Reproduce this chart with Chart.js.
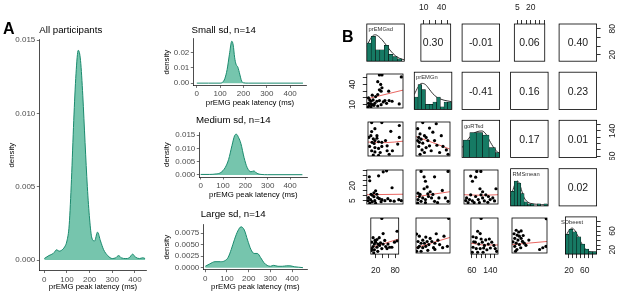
<!DOCTYPE html>
<html>
<head>
<meta charset="utf-8">
<script src="https://cdn.jsdelivr.net/npm/chart.js@4.4.1/dist/chart.umd.min.js"></script>
<style>
  body { margin: 0; background: #fff; }
  #fig { position: relative; width: 617px; height: 303px; overflow: hidden; font-family: "Liberation Sans", Arial, sans-serif; }
  #fig canvas { position: absolute; }
  .t { position: absolute; white-space: nowrap; line-height: 1; color: #000; }
</style>
</head>
<body>
<div id="fig"></div>
<script>
// ---- panel A: density of prEMG peak latency ----
var latTicks = [0, 100, 200, 300, 400];

var latAll = [0, 20, 40, 55, 65, 75, 90, 100, 110, 120, 130, 140, 150, 160, 170, 180, 190, 200, 210, 222, 235, 248, 262, 280, 300, 315, 328, 340, 360, 375, 390, 402, 420, 435, 445];
var densAll = [0.0001, 0.0003, 0.00045, 0.0007, 0.0006, 0.00065, 0.0009, 0.0013, 0.0024, 0.0055, 0.0095, 0.0127, 0.0143, 0.0136, 0.0112, 0.0080, 0.0050, 0.0028, 0.0015, 0.0013, 0.0019, 0.0013, 0.0007, 0.0003, 0.0001, 0.00015, 0.0003, 0.00015, 0.0001, 0.00015, 0.0004, 0.0002, 0.0001, 0.00015, 0.0001];

var latSmall = [0, 50, 100, 110, 120, 130, 140, 150, 156, 162, 168, 176, 184, 192, 200, 220, 300, 400, 455];
var densSmall = [0.0001, 0.0001, 0.0001, 0.0006, 0.003, 0.009, 0.019, 0.0275, 0.025, 0.017, 0.0125, 0.0105, 0.006, 0.0015, 0.0003, 0.0001, 0.0001, 0.0001, 0.0001];

var latMedium = [0, 40, 70, 90, 110, 125, 140, 152, 160, 170, 180, 194, 208, 225, 238, 252, 270, 300, 455];
var densMedium = [0.0002, 0.0002, 0.0004, 0.0009, 0.0028, 0.0058, 0.0110, 0.0148, 0.0153, 0.0140, 0.0118, 0.0066, 0.0028, 0.0012, 0.0015, 0.0006, 0.0002, 0.0001, 0.0001];

var latLarge = [0, 20, 45, 70, 90, 105, 120, 135, 150, 165, 180, 195, 210, 225, 240, 255, 270, 285, 300, 315, 335, 355, 375, 390, 410, 430, 450];
var densLarge = [0.0003, 0.0008, 0.0013, 0.0013, 0.0015, 0.0022, 0.0040, 0.0062, 0.0080, 0.0089, 0.0082, 0.0060, 0.0040, 0.0031, 0.0031, 0.0022, 0.0011, 0.0005, 0.0003, 0.0005, 0.0003, 0.0003, 0.0004, 0.0004, 0.0002, 0.0001, 0.0000];

// ---- panel B: pairs plot ----
var varNames = ['prEMGsd', 'prEMGn', 'goRTsd', 'RMSmean', 'SDbeest'];
var varRange = [[5, 91], [5, 55.4], [56, 173], [1.7, 35.8], [11, 90]];
var varTicks = [[20, 40, 60, 80], [10, 20, 30, 40, 50], [60, 80, 100, 120, 140, 160], [5, 10, 15, 20, 25, 30, 35], [20, 30, 40, 50, 60, 70, 80]];
var varTickLabels = [[20, 80], [10, 40], [60, 140], [5, 20], [20, 60]];

// histograms on the diagonal (bin mids, counts) and their density line (count units)
var histMid = [
  [10, 20, 30, 40, 50, 60, 70, 80],
  [7.5, 12.5, 17.5, 22.5, 27.5, 32.5, 37.5, 42.5, 47.5, 52.5],
  [70, 90, 110, 130, 150, 170],
  [3.5, 6.5, 9.5, 12.5, 15.5, 18.5, 21.5, 24.5, 27.5, 30.5, 33.5],
  [15, 25, 35, 45, 55, 65, 75, 85]
];
var histCount = [
  [8, 11, 5, 5, 7, 3, 2, 1],
  [5, 10, 8, 2, 2, 3, 5, 1, 3, 3],
  [7, 10, 10, 9, 4, 2],
  [7, 12, 11, 6, 2, 1, 1, 0, 1, 0, 1],
  [8, 10, 9, 7, 4, 2, 1, 1]
];
var histTop = [16.5, 15, 15, 18, 15];
var diagLineX = [
  [5, 12, 20, 25, 32, 40, 50, 60, 70, 80, 91],
  [5, 10, 15, 20, 25, 30, 35, 40, 45, 50, 55.4],
  [56, 70, 85, 100, 118, 130, 145, 160, 173],
  [1.7, 4, 6, 8, 10, 12, 14, 17, 20, 25, 30, 35.8],
  [11, 20, 28, 35, 45, 55, 65, 75, 90]
];
var diagLineY = [
  [6.5, 9.5, 11.5, 11.7, 11, 9.5, 7, 4.5, 2.5, 1.3, 0.6],
  [6, 9, 10.5, 10, 8.2, 6.3, 5, 4.2, 3.7, 3.4, 3.1],
  [4, 6.5, 9, 10.3, 10.7, 9.5, 6, 3, 1.6],
  [4.5, 8, 11, 12, 10.5, 7, 4, 2, 1.2, 0.8, 0.6, 0.5],
  [7, 9.5, 10.5, 9.5, 6.5, 3.5, 1.5, 0.8, 0.5]
];

// correlations in the upper triangle
var corrText = [
  [null, '0.30', '-0.01', '0.06', '0.40'],
  [null, null, '-0.41', '0.16', '0.23'],
  [null, null, null, '0.17', '0.01'],
  [null, null, null, null, '0.02']
];

// lower triangle scatter points: key "row,col", x = var col, y = var row
var scatterPts = {
  '1,0': [[35, 54], [41, 54], [87, 51], [31, 44], [38, 40], [41, 35], [35, 32], [39, 30], [18, 24], [26, 22], [31, 25], [9, 20], [12, 17], [15, 15], [9, 12], [14, 11], [18, 10], [10, 8], [15, 7], [22, 9], [24, 12], [29, 15], [35, 16], [44, 14], [48, 16], [52, 12], [58, 16], [65, 15], [82, 11], [31, 8], [39, 10], [20, 17], [57, 30], [7, 6]],
  '2,0': [[14, 171], [39, 171], [82, 161], [22, 150], [14, 140], [61, 141], [7, 120], [18, 115], [22, 109], [27, 117], [15, 103], [20, 99], [31, 105], [39, 103], [48, 109], [52, 91], [9, 89], [22, 85], [31, 82], [39, 89], [14, 74], [22, 70], [35, 68], [52, 74], [18, 59], [31, 58], [57, 62], [78, 97], [82, 120], [65, 74], [27, 126], [12, 126]],
  '2,1': [[15, 171], [35, 167], [7.5, 150], [25, 152], [11, 132], [17.5, 126], [9, 120], [12.5, 114], [22.5, 109], [32.5, 109], [15, 100], [9, 89], [20, 85], [36, 93], [45, 89], [27.5, 74], [17.5, 68], [11, 62], [40, 68], [50, 77], [7.5, 109], [20, 120], [30, 138], [42.5, 126], [14, 77], [25, 91], [10, 103], [52.5, 62]],
  '3,0': [[52, 35], [44, 34], [11, 29], [33, 30], [12, 25], [65, 18], [26, 15], [22, 13], [18, 10.5], [9, 8], [14, 6], [8, 5], [18, 4], [24, 5], [31, 8], [35, 7], [41, 6], [48, 5], [55, 7], [61, 5], [70, 4.5], [81, 6], [87, 5], [12, 2.5], [26, 2.5], [39, 4], [22, 9], [15, 11.5], [29, 11.5]],
  '3,1': [[12.5, 34.4], [52.5, 34.4], [17, 29], [19, 24.5], [32.5, 29], [21.5, 18.8], [17, 17], [26, 14], [8, 12.6], [10, 9.2], [15, 7.8], [8, 6.1], [12.5, 4.4], [19, 6.1], [23.5, 9.2], [28, 7.8], [32.5, 4.4], [39, 7.8], [44, 15.3], [48.5, 7.8], [52.5, 4.4], [37, 3.1], [19, 3.1], [7.5, 2.7], [11, 11.3], [22.5, 11.9], [30, 11.3]],
  '3,2': [[100, 34.4], [114, 34.4], [79, 29.7], [96, 28.6], [85, 24.5], [111, 17], [120, 14], [114.5, 10.9], [65, 7.8], [75, 6.1], [85, 4.8], [96, 9.2], [105, 6.1], [120, 7.8], [131, 10.9], [140, 9.2], [146, 6.1], [155, 7.8], [166, 17], [70, 3.1], [91, 3.1], [126, 4.8], [161, 4.8], [79, 10.9], [62, 5.1], [109, 3.1], [138, 3.4]],
  '4,0': [[39, 89], [43, 56], [86, 61], [12, 47], [31, 47], [24, 43], [8, 37], [16, 33], [20, 37], [27, 33], [35, 35.5], [12, 27.6], [8, 23], [7, 19], [16, 20.5], [24, 26], [32, 30], [43, 33], [51, 27.6], [55, 23], [63, 26], [70, 26], [78, 37], [86, 40], [58, 33], [14, 14], [26.5, 17], [39, 23], [18, 41], [48, 41]],
  '4,1': [[53.5, 89], [35, 54.5], [6, 53.7], [10, 49], [19.5, 47], [15, 40], [8, 37], [12.5, 33], [21.5, 37], [28.5, 37], [33, 33], [37.5, 40], [46.5, 49], [10, 26], [8, 23], [15, 23], [19.5, 26], [24, 30], [31, 23], [40, 30], [44.5, 23], [51.5, 26], [33, 19], [6, 15], [12.5, 15], [22.5, 17], [17.5, 33], [26, 44]],
  '4,2': [[100, 89], [85, 61], [96, 56], [65, 49], [79, 47], [120, 42], [75, 37], [90, 33], [105, 37], [114.5, 30], [131, 33], [146, 37], [155.5, 30], [65, 26], [79, 23], [96, 23], [111, 24.4], [125, 20.5], [140, 24.4], [161, 23], [135.5, 44], [62, 15], [85, 15], [108.5, 15], [167, 17], [68, 38], [100, 44]],
  '4,3': [[35.1, 88.4], [5.8, 62.4], [8.2, 58.4], [10.6, 60.8], [6.8, 51.3], [8.9, 48.9], [4.4, 44.2], [7.5, 40.2], [10.6, 44.2], [11.9, 37.1], [5.8, 33.1], [8.9, 30], [4.4, 26], [13.6, 33.1], [18.1, 40.2], [28.6, 18.9], [31.7, 22.8], [34.8, 26], [3.7, 54.5], [2.7, 36.3], [6.5, 18.9], [10.2, 22.8], [15.3, 28.4], [5.1, 15], [12.6, 50.5]]
};
// smooth (red) lines of the lower panels
var smoothPts = {
  '1,0': [[5, 18.5], [91, 31.5]],
  '2,0': [[5, 104], [48, 102], [91, 107]],
  '2,1': [[5, 123], [30, 102], [55, 80]],
  '3,0': [[5, 11], [91, 11.5]],
  '3,1': [[5, 9], [55, 14]],
  '3,2': [[56, 11], [115, 10.5], [173, 11]],
  '4,0': [[5, 25], [91, 44]],
  '4,1': [[5, 23], [55, 46]],
  '4,2': [[56, 35], [115, 31], [173, 31]],
  '4,3': [[1.7, 30], [35.8, 37]]
};

var FONT = '"Liberation Sans", Arial, sans-serif';
Chart.defaults.font.family = FONT;
var fig = document.getElementById('fig');

var CELL_L = [366.8, 414.3, 462.1, 510.6, 559.1], CELL_W = 37.5;
var CELL_T = [24, 72.2, 120.3, 168.7, 216.9], CELL_H = 37.2;

function mount(a, m) {
  var c = document.createElement('canvas');
  var l = Math.floor(a.l - m.l), t = Math.floor(a.t - m.t);
  var r = Math.ceil(a.r + m.r), b = Math.ceil(a.b + m.b);
  c.width = r - l; c.height = b - t;
  c.style.left = l + 'px'; c.style.top = t + 'px';
  fig.appendChild(c);
  return {canvas: c, pad: {left: a.l - l, top: a.t - t, right: r - a.r, bottom: b - a.b}};
}

function addText(txt, x, y, css) {
  var d = document.createElement('div');
  d.className = 't';
  d.textContent = txt;
  d.style.left = x + 'px'; d.style.top = y + 'px';
  for (var k in css) d.style[k] = css[k];
  fig.appendChild(d);
  return d;
}

function pts(xs, ys) {
  return xs.map(function (x, i) { return {x: x, y: ys[i]}; });
}

// ---- panel A charts ----
function densityPanel(o) {
  var mt = mount(o.area, o.margin), p = mt.pad;
  new Chart(mt.canvas, {
    type: 'line',
    data: {
      datasets: [{
        data: pts(o.lat, o.dens),
        borderColor: '#1b8a6e', backgroundColor: 'rgba(27,158,119,0.6)',
        borderWidth: 1, fill: 'origin', pointRadius: 0, cubicInterpolationMode: 'monotone'
      }]
    },
    options: {
      responsive: false, animation: false, events: [],
      layout: {padding: {left: 0, bottom: 0, top: p.top, right: p.right}},
      plugins: {legend: {display: false}, tooltip: {enabled: false}},
      scales: {
        x: {
          type: 'linear', min: o.xr[0], max: o.xr[1],
          afterBuildTicks: function (s) { s.ticks = latTicks.map(function (v) { return {value: v}; }); },
          afterFit: function (s) { s.height = p.bottom; },
          grid: {drawOnChartArea: false, tickLength: 2.5, color: '#333', lineWidth: 0.7},
          border: {color: '#000', width: 0.7},
          ticks: {padding: 1.5, color: '#4d4d4d', font: {size: 8}, maxRotation: 0, autoSkip: false},
          title: {display: true, text: 'prEMG peak latency (ms)', color: '#000', font: {size: 7.8}, padding: {top: 0, bottom: o.xtp}}
        },
        y: {
          type: 'linear', min: o.yr[0], max: o.yr[1],
          afterBuildTicks: function (s) { s.ticks = o.yt.map(function (v) { return {value: v}; }); },
          afterFit: function (s) { s.width = p.left; },
          grid: {drawOnChartArea: false, tickLength: 2.5, color: '#333', lineWidth: 0.7},
          border: {color: '#000', width: 0.7},
          ticks: {padding: 1.5, color: '#4d4d4d', font: {size: 8}, autoSkip: false,
                  callback: function (v) { return v.toFixed(o.dec); }},
          title: {display: true, text: 'density', color: '#000', font: {size: 7.8}, padding: {top: o.ytp, bottom: 0}}
        }
      }
    }
  });
}

densityPanel({lat: latAll, dens: densAll, area: {l: 39.3, t: 39.8, r: 146.7, b: 270.5},
  margin: {l: 39.3, t: 6.8, r: 6.3, b: 27.5}, xr: [-22, 452], yr: [-0.000715, 0.015015],
  yt: [0, 0.005, 0.01, 0.015], dec: 3, xtp: 6.3, ytp: 7.3});
densityPanel({lat: latSmall, dens: densSmall, area: {l: 193.3, t: 38.8, r: 306.7, b: 85.4},
  margin: {l: 33.3, t: 6.8, r: 6.3, b: 24.6}, xr: [-15, 471], yr: [-0.001385, 0.029085],
  yt: [0, 0.01, 0.02], dec: 2, xtp: 2.6, ytp: 2});
densityPanel({lat: latMedium, dens: densMedium, area: {l: 199.3, t: 132.2, r: 307.3, b: 177.0},
  margin: {l: 39.3, t: 7.2, r: 5.7, b: 26}, xr: [-6, 477], yr: [-0.000765, 0.016065],
  yt: [0, 0.005, 0.01, 0.015], dec: 3, xtp: 3.3, ytp: 2});
densityPanel({lat: latLarge, dens: densLarge, area: {l: 203.3, t: 224.8, r: 307.3, b: 269.7},
  margin: {l: 43.3, t: 6.8, r: 5.7, b: 28.3}, xr: [-9, 470], yr: [-0.000445, 0.009345],
  yt: [0, 0.0025, 0.005, 0.0075], dec: 4, xtp: 6, ytp: 2});

addText('A', 3, 21.2, {fontSize: '16px', fontWeight: 'bold'});
addText('All participants', 39.3, 24.7, {fontSize: '9.7px'});
addText('Small sd, n=14', 191.5, 24.7, {fontSize: '9.7px'});
addText('Medium sd, n=14', 196, 115.4, {fontSize: '9.7px'});
addText('Large sd, n=14', 200.7, 208.7, {fontSize: '9.7px'});

// ---- panel B charts ----
var cellBox = {
  id: 'cellBox',
  afterDraw: function (chart) {
    var a = chart.chartArea, ctx = chart.ctx;
    ctx.save();
    ctx.strokeStyle = '#000'; ctx.lineWidth = 0.8;
    ctx.strokeRect(a.left, a.top, a.right - a.left, a.bottom - a.top);
    ctx.restore();
  }
};
var sideLabels = {
  id: 'sideLabels',
  afterDraw: function (chart, args, opts) {
    if (!opts || !opts.values) return;
    var s = chart.scales[opts.scale], a = chart.chartArea, ctx = chart.ctx;
    var x = opts.side === 'left' ? a.left - 14.5 : a.right + 16;
    ctx.save();
    ctx.font = '8.5px ' + FONT; ctx.fillStyle = '#222';
    ctx.textAlign = 'center'; ctx.textBaseline = 'middle';
    opts.values.forEach(function (v) {
      ctx.save();
      ctx.translate(x, s.getPixelForValue(v));
      ctx.rotate(-Math.PI / 2);
      ctx.fillText(String(v), 0, 0);
      ctx.restore();
    });
    ctx.restore();
  }
};

function varAxis(v, side, size, horizontal) {
  return {
    type: 'linear', min: varRange[v][0], max: varRange[v][1],
    position: side || (horizontal ? 'bottom' : 'left'), display: !!side, offset: false,
    afterBuildTicks: function (s) {
      var t = side ? varTicks[v] : varRange[v];
      s.ticks = t.map(function (x) { return {value: x}; });
    },
    afterFit: function (s) { if (side) { if (horizontal) s.height = size; else s.width = size; } },
    grid: {drawOnChartArea: false, drawTicks: true, tickLength: 4, color: '#000', lineWidth: 0.8, offset: false},
    border: {display: false},
    ticks: {display: horizontal, autoSkip: false, maxRotation: 0, padding: 7, color: '#222', font: {size: 8.5},
            callback: function (val) { return varTickLabels[v].indexOf(val) >= 0 ? String(val) : ''; }}
  };
}

function cellChart(i, j) {
  var a = {l: CELL_L[j], t: CELL_T[i], r: CELL_L[j] + CELL_W, b: CELL_T[i] + CELL_H};
  var top = i === 0 && j % 2 === 1, bottom = i === 4 && j % 2 === 0;
  var left = j === 0 && i % 2 === 1, right = j === 4 && i % 2 === 0;
  var mt = mount(a, {l: left ? 24 : 2, t: top ? 24 : 2, r: right ? 24 : 2, b: bottom ? 24 : 2});
  var p = mt.pad;
  var xSide = top ? 'top' : (bottom ? 'bottom' : null);
  var ySide = left ? 'left' : (right ? 'right' : null);
  var scales = {x: varAxis(j, xSide, top ? p.top : p.bottom, true)};
  var key = i + ',' + j, type, datasets;

  if (i === j) {
    type = 'bar';
    scales.y = {type: 'linear', min: 0, max: histTop[i], display: false};
    if (ySide) scales.yv = varAxis(i, ySide, right ? p.right : p.left, false);
    datasets = [
      {type: 'bar', data: pts(histMid[i], histCount[i]), backgroundColor: '#167a64', borderColor: '#000',
       borderWidth: 0.5, barPercentage: 1, categoryPercentage: 1, xAxisID: 'x', yAxisID: 'y'},
      {type: 'line', data: pts(diagLineX[i], diagLineY[i]), borderColor: '#000', borderWidth: 0.8,
       pointRadius: 0, fill: false, cubicInterpolationMode: 'monotone', xAxisID: 'x', yAxisID: 'y'}
    ];
  } else {
    type = 'scatter';
    scales.y = varAxis(i, ySide, right ? p.right : p.left, false);
    datasets = [];
    if (i > j) {
      datasets.push({data: scatterPts[key].map(function (q) { return {x: q[0], y: q[1]}; }),
        pointRadius: 1.6, pointBackgroundColor: '#000', pointBorderWidth: 0});
      datasets.push({data: smoothPts[key].map(function (q) { return {x: q[0], y: q[1]}; }),
        showLine: true, pointRadius: 0, borderColor: '#e3403a', borderWidth: 0.8, cubicInterpolationMode: 'monotone'});
    }
  }

  new Chart(mt.canvas, {
    type: type,
    data: {datasets: datasets},
    options: {
      responsive: false, animation: false, events: [],
      layout: {padding: {left: left ? 0 : p.left, top: top ? 0 : p.top, right: right ? 0 : p.right, bottom: bottom ? 0 : p.bottom}},
      plugins: {
        legend: {display: false}, tooltip: {enabled: false},
        sideLabels: ySide ? {scale: i === j ? 'yv' : 'y', side: ySide, values: varTickLabels[i]} : {}
      },
      scales: scales
    },
    plugins: [cellBox, sideLabels]
  });

  if (i === j) {
    addText(varNames[i], CELL_L[j] + 1.8, CELL_T[i] + 3.2, {fontSize: '5.8px', color: '#333'});
  } else if (i < j) {
    addText(corrText[i][j], CELL_L[j], CELL_T[i], {fontSize: '10.5px', color: '#1a1a1a',
      width: CELL_W + 'px', height: CELL_H + 'px', display: 'flex', alignItems: 'center', justifyContent: 'center'});
  }
}

for (var i = 0; i < 5; i++) {
  for (var j = 0; j < 5; j++) cellChart(i, j);
}
addText('B', 342, 28.6, {fontSize: '16px', fontWeight: 'bold'});
</script>
</body>
</html>
